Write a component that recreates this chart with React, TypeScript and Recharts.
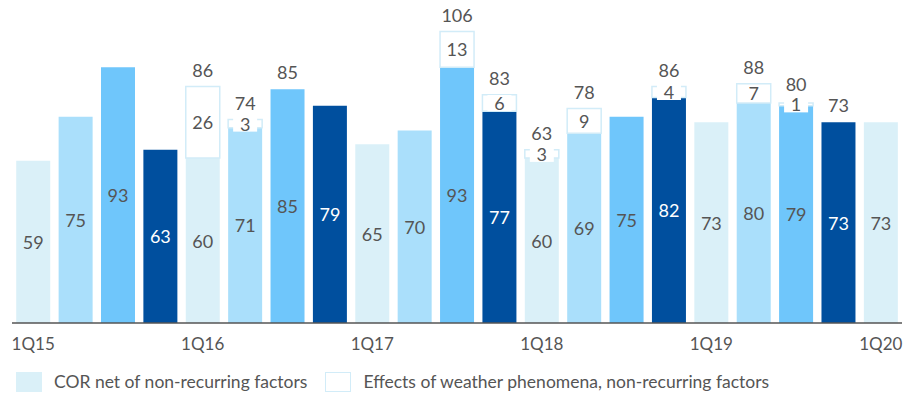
import React from "react";
import { BarChart, Bar, XAxis, YAxis, Cell, LabelList } from "recharts";

// Quarterly cost of risk, 1Q15 – 1Q20
const quarters = [
  "1Q15", "2Q15", "3Q15", "4Q15",
  "1Q16", "2Q16", "3Q16", "4Q16",
  "1Q17", "2Q17", "3Q17", "4Q17",
  "1Q18", "2Q18", "3Q18", "4Q18",
  "1Q19", "2Q19", "3Q19", "4Q19",
  "1Q20",
];
// COR net of non-recurring factors
const corNet = [59, 75, 93, 63, 60, 71, 85, 79, 65, 70, 93, 77, 60, 69, 75, 82, 73, 80, 79, 73, 73];
// Effects of weather phenomena, non-recurring factors
const weatherEffects = [0, 0, 0, 0, 26, 3, 0, 0, 0, 0, 13, 6, 3, 9, 0, 4, 0, 7, 1, 0, 0];
// Totals printed above the bars (null = not shown)
const totalLabels: (number | null)[] = [
  null, null, null, null, 86, 74, 85, null, null, null, 106, 83, 63, 78, null, 86, null, 88, 80, 73, null,
];

const quarterColors = ["#daf0f8", "#aadffb", "#6fc6fb", "#004f9e"];
const weatherStroke = "#d2ecf8";
const textColor = "#555555";
const fontFamily = "Lato, 'Open Sans', sans-serif";
const labelSize = 18;

const data = quarters.map((q, i) => ({
  quarter: q,
  net: corNet[i],
  weather: weatherEffects[i],
  total: totalLabels[i],
}));

const NetLabel = (props: any) => {
  const { x, y, width, height, index } = props;
  const isDark = index % 4 === 3;
  const cx = x + width / 2;
  const net = corNet[index];
  const w = weatherEffects[index];
  const unit = height / net;
  const topY = y - w * unit;
  const weatherCenter = y - (w * unit) / 2;
  const total = totalLabels[index];
  const totalY = w > 0 ? Math.min(topY - 17, weatherCenter - 20) : topY - 17;
  return (
    <g>
      <text
        x={cx}
        y={y + height / 2}
        textAnchor="middle"
        dominantBaseline="central"
        fontSize={labelSize}
        fontFamily={fontFamily}
        fill={isDark ? "#ffffff" : textColor}
      >
        {net}
      </text>
      {w > 0 && (
        <g>
          <rect x={cx - 12} y={weatherCenter - 8} width={24} height={16} fill="#ffffff" />
          <text
            x={cx}
            y={weatherCenter}
            textAnchor="middle"
            dominantBaseline="central"
            fontSize={labelSize}
            fontFamily={fontFamily}
            fill={textColor}
          >
            {w}
          </text>
        </g>
      )}
      {total !== null && (
        <text
          x={cx}
          y={totalY}
          textAnchor="middle"
          dominantBaseline="central"
          fontSize={labelSize}
          fontFamily={fontFamily}
          fill={textColor}
        >
          {total}
        </text>
      )}
    </g>
  );
};

const legendItems = [
  { label: "COR net of non-recurring factors", fill: quarterColors[0], stroke: "none" },
  { label: "Effects of weather phenomena, non-recurring factors", fill: "#ffffff", stroke: weatherStroke },
];

export default function App() {
  return (
    <div style={{ position: "absolute", left: 0, top: 0, width: 905, height: 393, background: "#fff" }}>
      <BarChart
        width={905}
        height={393}
        data={data}
        margin={{ top: 20.5, right: 3, left: 12, bottom: 30 }}
        barCategoryGap="10%"
      >
        <YAxis hide domain={[0, 110]} />
        <XAxis
          dataKey="quarter"
          interval={3}
          height={40}
          tickLine={false}
          axisLine={{ stroke: "#555555", strokeWidth: 1.5 }}
          tick={{ fill: textColor, fontSize: 17, fontFamily }}
          tickMargin={9}
        />
        <Bar dataKey="net" stackId="a" isAnimationActive={false}>
          {data.map((d, i) => (
            <Cell key={d.quarter} fill={quarterColors[i % 4]} />
          ))}
          <LabelList dataKey="net" content={NetLabel} />
        </Bar>
        <Bar
          dataKey="weather"
          stackId="a"
          fill="#ffffff"
          stroke={weatherStroke}
          strokeWidth={1.5}
          isAnimationActive={false}
        />
      </BarChart>
      <div
        style={{
          position: "absolute",
          left: 16,
          top: 371,
          display: "flex",
          alignItems: "center",
          fontFamily,
          fontSize: 17.5,
          color: textColor,
        }}
      >
        {legendItems.map((item, i) => (
          <div key={item.label} style={{ display: "flex", alignItems: "center", marginRight: i === 0 ? 18 : 0 }}>
            <div
              style={{
                width: 26,
                height: 20,
                background: item.fill,
                border: item.stroke === "none" ? "none" : `1px solid ${item.stroke}`,
                boxSizing: "border-box",
                marginRight: 12,
              }}
            />
            <span>{item.label}</span>
          </div>
        ))}
      </div>
    </div>
  );
}
